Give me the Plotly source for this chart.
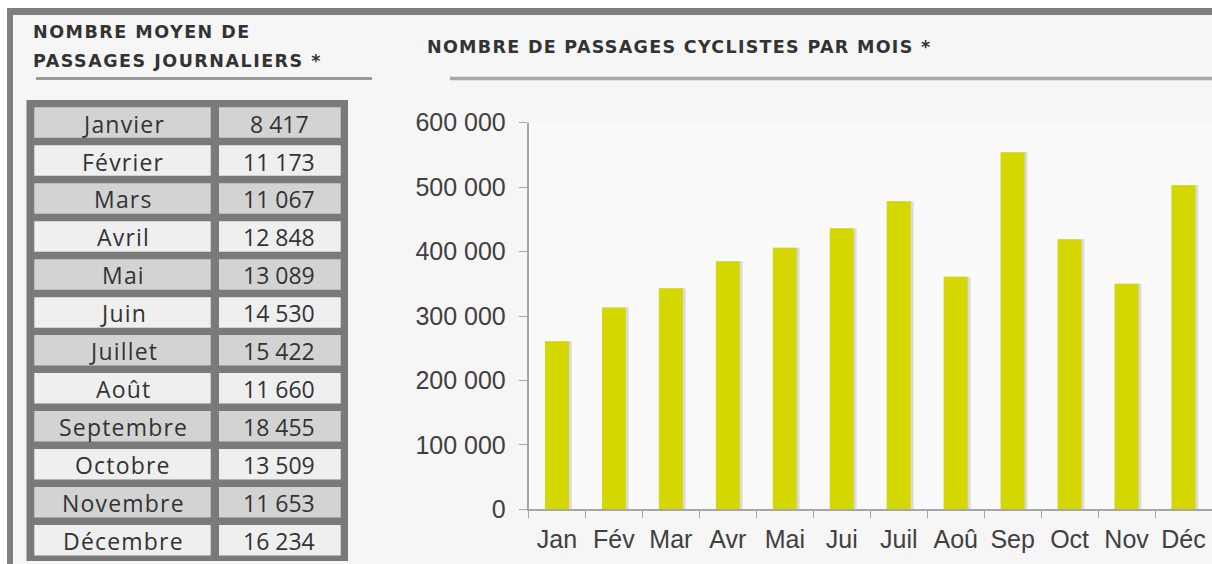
import plotly.graph_objects as go

# ---------------- data ----------------
mois_courts = ["Jan", "Fév", "Mar", "Avr", "Mai", "Jui", "Juil", "Aoû", "Sep", "Oct", "Nov", "Déc"]
passages_mois = [261000, 313000, 343000, 385000, 406000, 436000, 478000, 361000, 554000, 419000, 350000, 503000]

mois_longs = ["Janvier", "Février", "Mars", "Avril", "Mai", "Juin", "Juillet", "Août",
              "Septembre", "Octobre", "Novembre", "Décembre"]
moyenne_jour = [8417, 11173, 11067, 12848, 13089, 14530, 15422, 11660, 18455, 13509, 11653, 16234]

y_ticks = [0, 100000, 200000, 300000, 400000, 500000, 600000]

titre_gauche_l1 = "NOMBRE MOYEN DE"
titre_gauche_l2 = "PASSAGES JOURNALIERS *"
titre_droite = "NOMBRE DE PASSAGES CYCLISTES PAR MOIS *"

# ---------------- layout helpers ----------------
W, H = 1212, 564
def px(x):
    return x / W
def py(y):
    return 1 - y / H

BAR = "#d4d700"
TXT = "#333333"
AXIS = "#a6a6a6"
TITLE_FONT = "DejaVu Sans"
TABLE_FONT = "Open Sans"

def fmt(v):
    return f"{v:,}".replace(",", " ")

def spaced(t, ls):
    return f'<span style="letter-spacing:{ls}px">{t}</span>'

fig = go.Figure()

# shadow behind bars
fig.add_trace(go.Bar(
    x=mois_courts, y=passages_mois, width=0.47, offset=-0.21,
    marker=dict(color="rgba(110,110,110,0.22)", line=dict(width=0)),
    hoverinfo="skip", showlegend=False,
))
fig.add_trace(go.Bar(
    x=mois_courts, y=passages_mois, width=0.42, offset=-0.21,
    marker=dict(color=BAR, line=dict(width=0)),
    showlegend=False,
))

shapes = []
annotations = []

# outer grey frame (top + left bands)
shapes.append(dict(type="rect", xref="paper", yref="paper", x0=px(7), x1=px(W), y0=py(15), y1=py(8),
                   fillcolor="#7f7f7f", line=dict(width=0), layer="below"))
shapes.append(dict(type="rect", xref="paper", yref="paper", x0=px(7), x1=px(13), y0=py(H), y1=py(8),
                   fillcolor="#7f7f7f", line=dict(width=0), layer="below"))
# white strips outside frame
shapes.append(dict(type="rect", xref="paper", yref="paper", x0=0, x1=1, y0=py(8), y1=1,
                   fillcolor="#ffffff", line=dict(width=0), layer="below"))
shapes.append(dict(type="rect", xref="paper", yref="paper", x0=0, x1=px(7), y0=0, y1=1,
                   fillcolor="#ffffff", line=dict(width=0), layer="below"))

# title underlines
shapes.append(dict(type="line", xref="paper", yref="paper", x0=px(36), x1=px(372), y0=py(78.5), y1=py(78.5),
                   line=dict(color="#9a9a9a", width=3)))
shapes.append(dict(type="line", xref="paper", yref="paper", x0=px(450), x1=px(W), y0=py(78.5), y1=py(78.5),
                   line=dict(color="#a8a8a8", width=3.5)))

# table frame
shapes.append(dict(type="rect", xref="paper", yref="paper", x0=px(26.5), x1=px(348), y0=py(561), y1=py(100),
                   fillcolor="#7a7a7a", line=dict(width=0)))

row_top0 = 107.3
pitch = 37.97
cell_h = 30.5
for i, (nom, val) in enumerate(zip(mois_longs, moyenne_jour)):
    top = row_top0 + i * pitch
    fill = "#d3d3d3" if i % 2 == 0 else "#efefef"
    shapes.append(dict(type="rect", xref="paper", yref="paper", x0=px(34.3), x1=px(210.7),
                       y0=py(top + cell_h), y1=py(top), fillcolor=fill, line=dict(width=0)))
    shapes.append(dict(type="rect", xref="paper", yref="paper", x0=px(219), x1=px(340.7),
                       y0=py(top + cell_h), y1=py(top), fillcolor=fill, line=dict(width=0)))
    cy = py(top + cell_h / 2 + 1)
    annotations.append(dict(x=px(123), y=cy, xref="paper", yref="paper", text=spaced(nom, 1.2), showarrow=False,
                            xanchor="center", yanchor="middle",
                            font=dict(family=TABLE_FONT, size=23, color=TXT, weight=400)))
    annotations.append(dict(x=px(279), y=cy, xref="paper", yref="paper", text=fmt(val), showarrow=False,
                            xanchor="center", yanchor="middle",
                            font=dict(family=TABLE_FONT, size=23, color=TXT, weight=400)))

# titles
tfont = dict(family=TITLE_FONT, size=17.5, color=TXT, weight=600)
annotations.append(dict(x=px(31), y=py(32), xref="paper", yref="paper", text=spaced(titre_gauche_l1, 1.5),
                        showarrow=False, xanchor="left", yanchor="middle", align="left", font=tfont))
annotations.append(dict(x=px(31), y=py(60.5), xref="paper", yref="paper", text=spaced(titre_gauche_l2, 1.5),
                        showarrow=False, xanchor="left", yanchor="middle", align="left", font=tfont))
annotations.append(dict(x=px(425), y=py(47), xref="paper", yref="paper", text=spaced(titre_droite, 1.3),
                        showarrow=False, xanchor="left", yanchor="middle", align="left", font=tfont))

fig.update_layout(
    width=W, height=H,
    margin=dict(l=0, r=0, t=0, b=0),
    paper_bgcolor="#f6f6f6",
    plot_bgcolor="#fafafa",
    separators=", ",
    barmode="overlay",
    shapes=shapes,
    annotations=annotations,
    xaxis=dict(
        domain=[px(528.5), 1.0],
        type="category",
        categoryorder="array", categoryarray=mois_courts,
        showline=True, linecolor=AXIS, linewidth=1.5,
        ticks="outside", tickson="boundaries", ticklen=7, tickcolor=AXIS, tickwidth=1.2,
        ticklabelstandoff=7,
        showgrid=False, zeroline=False,
        tickfont=dict(family="Liberation Sans", size=25, color="#404040"),
        automargin=False, fixedrange=True,
    ),
    yaxis=dict(
        domain=[py(509.3), py(122.7)],
        range=[0, 600000],
        tickvals=y_ticks,
        tickformat=",d",
        showline=True, linecolor=AXIS, linewidth=1.5,
        ticks="outside", ticklen=8, tickcolor=AXIS, tickwidth=1.2,
        ticklabelstandoff=8,
        showgrid=False, zeroline=False,
        tickfont=dict(family="Liberation Sans", size=25, color="#404040"),
        automargin=False, fixedrange=True,
    ),
)

fig.write_html("out.html", config={"displayModeBar": False},
               post_script="document.body.style.margin='0';document.body.style.overflow='hidden';")
